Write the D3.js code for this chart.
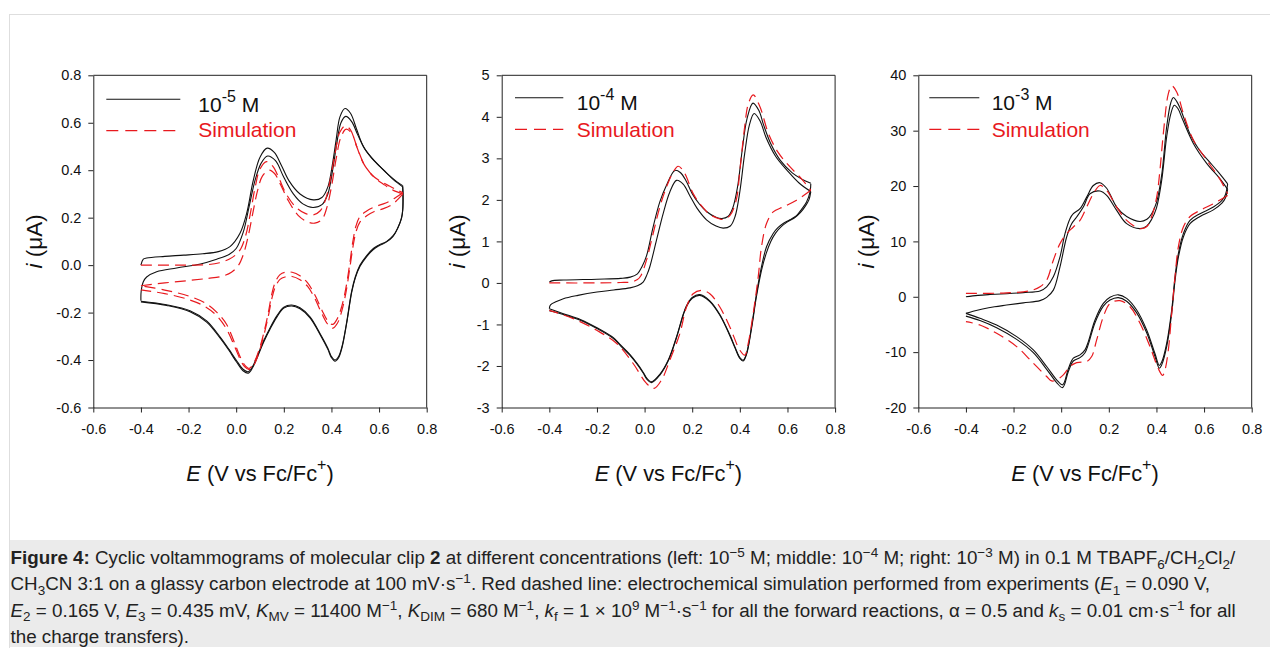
<!DOCTYPE html>
<html>
<head>
<meta charset="utf-8">
<script src="https://cdn.jsdelivr.net/npm/d3@7"></script>
<style>
  body { margin: 0; background: #fff; }
  svg { display: block; font-family: Arial, "Liberation Sans", sans-serif; }
</style>
</head>
<body>
<svg id="fig" width="1270" height="648"></svg>
<script>
// potential axis, shared by the three panels (V vs Fc/Fc+)
const xTicks = [-0.6, -0.4, -0.2, 0.0, 0.2, 0.4, 0.6, 0.8];

// ---- left panel, 1e-5 M (current in uA) ----
const p1YTicks = [-0.6, -0.4, -0.2, 0.0, 0.2, 0.4, 0.6, 0.8];
const p1ExpFwd1 = [[-0.4,0.0],[-0.39,0.025],[-0.376,0.03],[-0.3,0.037],[-0.22,0.042],[-0.14,0.048],[-0.075,0.057],[-0.026,0.078],[0.016,0.134],[0.044,0.218],[0.072,0.358],[0.1,0.455],[0.13,0.493],[0.16,0.475],[0.19,0.42],[0.222,0.355],[0.268,0.3],[0.324,0.275],[0.36,0.285],[0.385,0.33],[0.405,0.43],[0.42,0.53],[0.436,0.626],[0.457,0.66],[0.48,0.64],[0.505,0.575],[0.534,0.5],[0.57,0.45],[0.604,0.415],[0.64,0.38],[0.674,0.352],[0.699,0.335]];
const p1ExpFwd2 = [[-0.4,-0.15],[-0.399,-0.11],[-0.39,-0.07],[-0.376,-0.05],[-0.334,-0.028],[-0.25,-0.012],[-0.15,0.005],[-0.082,0.025],[-0.03,0.045],[0.0,0.07],[0.03,0.14],[0.055,0.25],[0.08,0.36],[0.105,0.43],[0.132,0.46],[0.165,0.44],[0.2,0.37],[0.24,0.3],[0.28,0.258],[0.322,0.243],[0.36,0.255],[0.385,0.3],[0.405,0.4],[0.422,0.51],[0.44,0.6],[0.46,0.627],[0.485,0.605],[0.51,0.55],[0.54,0.49],[0.58,0.44],[0.62,0.4],[0.66,0.36],[0.699,0.33]];
const p1ExpRev1 = [[0.699,0.335],[0.701,0.3],[0.7,0.24],[0.695,0.2],[0.68,0.16],[0.66,0.125],[0.632,0.1],[0.6,0.085],[0.576,0.07],[0.548,0.04],[0.52,0.0],[0.5,-0.05],[0.485,-0.11],[0.464,-0.24],[0.445,-0.34],[0.43,-0.385],[0.415,-0.4],[0.4,-0.385],[0.385,-0.35],[0.352,-0.288],[0.31,-0.218],[0.268,-0.18],[0.233,-0.168],[0.2,-0.177],[0.17,-0.215],[0.142,-0.265],[0.115,-0.32],[0.09,-0.38],[0.07,-0.425],[0.051,-0.449],[0.03,-0.44],[0.0,-0.4],[-0.03,-0.355],[-0.068,-0.302],[-0.124,-0.235],[-0.194,-0.192],[-0.292,-0.167],[-0.4,-0.152]];
const p1ExpRev2 = [[0.699,0.33],[0.7,0.29],[0.699,0.23],[0.693,0.195],[0.678,0.155],[0.658,0.12],[0.63,0.097],[0.6,0.082],[0.576,0.066],[0.548,0.036],[0.52,-0.005],[0.5,-0.055],[0.485,-0.115],[0.464,-0.245],[0.445,-0.345],[0.43,-0.39],[0.415,-0.405],[0.4,-0.39],[0.385,-0.355],[0.352,-0.292],[0.31,-0.222],[0.268,-0.184],[0.233,-0.172],[0.2,-0.181],[0.17,-0.22],[0.142,-0.27],[0.115,-0.325],[0.09,-0.386],[0.07,-0.43],[0.051,-0.455],[0.03,-0.446],[0.0,-0.406],[-0.03,-0.36],[-0.068,-0.307],[-0.124,-0.24],[-0.194,-0.196],[-0.292,-0.17],[-0.4,-0.155]];
const p1SimFwd1 = [[-0.4,0.0],[-0.3,0.0],[-0.2,0.0],[-0.12,0.002],[-0.07,0.01],[-0.03,0.025],[0.0,0.045],[0.02,0.07],[0.04,0.125],[0.06,0.22],[0.08,0.33],[0.1,0.405],[0.128,0.436],[0.155,0.415],[0.18,0.365],[0.21,0.3],[0.25,0.245],[0.29,0.218],[0.324,0.212],[0.352,0.228],[0.375,0.275],[0.395,0.36],[0.415,0.47],[0.435,0.56],[0.458,0.587],[0.48,0.57],[0.506,0.5],[0.534,0.43],[0.57,0.38],[0.604,0.355],[0.64,0.335],[0.674,0.317],[0.7,0.305]];
const p1SimFwd2 = [[-0.4,-0.087],[-0.3,-0.075],[-0.2,-0.065],[-0.12,-0.056],[-0.06,-0.047],[-0.02,-0.03],[0.01,0.0],[0.03,0.045],[0.05,0.12],[0.07,0.22],[0.09,0.315],[0.11,0.375],[0.138,0.4],[0.162,0.385],[0.186,0.34],[0.22,0.27],[0.26,0.21],[0.3,0.182],[0.33,0.177],[0.36,0.192],[0.38,0.24],[0.4,0.33],[0.42,0.45],[0.44,0.54],[0.462,0.573],[0.485,0.555],[0.51,0.49],[0.54,0.42],[0.58,0.37],[0.62,0.34],[0.66,0.315],[0.7,0.3]];
const p1SimRev1 = [[0.7,0.305],[0.67,0.285],[0.646,0.27],[0.618,0.258],[0.58,0.245],[0.548,0.228],[0.52,0.205],[0.503,0.165],[0.49,0.1],[0.476,0.0],[0.46,-0.1],[0.443,-0.175],[0.425,-0.225],[0.405,-0.25],[0.385,-0.235],[0.36,-0.19],[0.33,-0.125],[0.3,-0.075],[0.268,-0.045],[0.235,-0.03],[0.205,-0.03],[0.184,-0.04],[0.165,-0.07],[0.15,-0.12],[0.135,-0.2],[0.115,-0.29],[0.095,-0.36],[0.075,-0.41],[0.055,-0.435],[0.035,-0.42],[0.016,-0.385],[-0.01,-0.32],[-0.04,-0.25],[-0.08,-0.2],[-0.13,-0.16],[-0.2,-0.13],[-0.3,-0.105],[-0.4,-0.087]];
const p1SimRev2 = [[0.7,0.3],[0.67,0.268],[0.646,0.25],[0.618,0.238],[0.58,0.226],[0.548,0.208],[0.52,0.182],[0.503,0.14],[0.49,0.075],[0.476,-0.02],[0.46,-0.12],[0.443,-0.195],[0.425,-0.245],[0.405,-0.266],[0.385,-0.25],[0.36,-0.205],[0.33,-0.14],[0.3,-0.09],[0.268,-0.062],[0.235,-0.048],[0.205,-0.05],[0.184,-0.06],[0.165,-0.09],[0.15,-0.14],[0.135,-0.215],[0.115,-0.3],[0.095,-0.37],[0.075,-0.42],[0.055,-0.44],[0.035,-0.428],[0.016,-0.395],[-0.01,-0.335],[-0.04,-0.27],[-0.08,-0.215],[-0.13,-0.175],[-0.2,-0.145],[-0.3,-0.12],[-0.4,-0.104]];

// ---- middle panel, 1e-4 M ----
const p2YTicks = [-3, -2, -1, 0, 1, 2, 3, 4, 5];
const p2ExpFwd1 = [[-0.4,0.02],[-0.39,0.05],[-0.34,0.07],[-0.2,0.09],[-0.1,0.11],[-0.06,0.14],[-0.03,0.22],[-0.01,0.4],[0.008,0.65],[0.036,1.35],[0.064,1.95],[0.092,2.35],[0.127,2.71],[0.15,2.66],[0.175,2.45],[0.2,2.15],[0.23,1.9],[0.26,1.72],[0.3,1.58],[0.325,1.55],[0.35,1.6],[0.37,1.8],[0.39,2.3],[0.41,3.2],[0.43,3.95],[0.455,4.33],[0.48,4.15],[0.5,3.8],[0.53,3.35],[0.57,2.95],[0.62,2.65],[0.66,2.5],[0.698,2.4]];
const p2ExpFwd2 = [[-0.4,-0.62],[-0.395,-0.53],[-0.37,-0.45],[-0.341,-0.38],[-0.28,-0.3],[-0.2,-0.22],[-0.13,-0.17],[-0.062,-0.12],[-0.03,-0.07],[-0.006,0.02],[0.01,0.2],[0.022,0.39],[0.05,1.03],[0.078,1.67],[0.106,2.19],[0.134,2.47],[0.162,2.38],[0.19,2.1],[0.22,1.8],[0.26,1.52],[0.3,1.37],[0.33,1.32],[0.36,1.37],[0.38,1.6],[0.4,2.2],[0.42,3.1],[0.44,3.8],[0.46,4.08],[0.485,3.9],[0.51,3.5],[0.55,3.05],[0.6,2.7],[0.65,2.4],[0.698,2.2]];
const p2ExpRev1 = [[0.698,2.39],[0.695,2.2],[0.68,1.95],[0.66,1.78],[0.638,1.62],[0.61,1.52],[0.582,1.43],[0.56,1.33],[0.54,1.19],[0.512,0.87],[0.491,0.39],[0.47,-0.26],[0.449,-1.06],[0.428,-1.7],[0.414,-1.86],[0.4,-1.8],[0.38,-1.55],[0.358,-1.25],[0.316,-0.76],[0.274,-0.43],[0.232,-0.28],[0.2,-0.35],[0.176,-0.55],[0.162,-0.76],[0.134,-1.3],[0.1,-1.85],[0.064,-2.2],[0.029,-2.38],[0.01,-2.3],[-0.006,-2.15],[-0.03,-1.95],[-0.062,-1.72],[-0.1,-1.5],[-0.131,-1.32],[-0.2,-1.08],[-0.27,-0.88],[-0.341,-0.74],[-0.4,-0.62]];
const p2ExpRev2 = [[0.698,2.2],[0.69,2.0],[0.675,1.85],[0.655,1.7],[0.63,1.57],[0.6,1.47],[0.575,1.36],[0.55,1.2],[0.53,1.0],[0.51,0.7],[0.491,0.3],[0.47,-0.32],[0.449,-1.1],[0.428,-1.72],[0.414,-1.88],[0.4,-1.82],[0.38,-1.57],[0.358,-1.27],[0.316,-0.78],[0.274,-0.45],[0.232,-0.3],[0.2,-0.37],[0.176,-0.57],[0.162,-0.78],[0.134,-1.32],[0.1,-1.87],[0.064,-2.22],[0.029,-2.4],[0.01,-2.32],[-0.006,-2.17],[-0.03,-1.97],[-0.062,-1.74],[-0.1,-1.52],[-0.131,-1.34],[-0.2,-1.1],[-0.27,-0.9],[-0.341,-0.76],[-0.4,-0.67]];
const p2SimFwd = [[-0.4,0.0],[-0.2,0.0],[-0.1,0.01],[-0.062,0.02],[-0.03,0.08],[-0.015,0.18],[0.008,0.55],[0.036,1.19],[0.064,1.83],[0.092,2.31],[0.12,2.67],[0.141,2.81],[0.16,2.72],[0.176,2.55],[0.204,2.15],[0.24,1.85],[0.274,1.65],[0.316,1.54],[0.33,1.53],[0.358,1.62],[0.385,2.0],[0.4,2.7],[0.42,3.75],[0.435,4.3],[0.456,4.53],[0.484,4.25],[0.52,3.6],[0.56,3.15],[0.61,2.8],[0.66,2.5],[0.698,2.23]];
const p2SimRev = [[0.698,2.23],[0.638,1.99],[0.582,1.83],[0.54,1.71],[0.512,1.43],[0.491,0.87],[0.477,0.14],[0.456,-0.74],[0.435,-1.46],[0.421,-1.74],[0.4,-1.62],[0.358,-1.06],[0.316,-0.58],[0.274,-0.26],[0.239,-0.18],[0.204,-0.26],[0.176,-0.58],[0.148,-1.22],[0.106,-1.86],[0.071,-2.34],[0.04,-2.54],[0.008,-2.42],[-0.048,-1.94],[-0.117,-1.46],[-0.201,-1.14],[-0.299,-0.86],[-0.4,-0.66]];

// ---- right panel, 1e-3 M ----
const p3YTicks = [-20, -10, 0, 10, 20, 30, 40];
const p3ExpFwd1 = [[-0.4,0.0],[-0.35,0.25],[-0.299,0.4],[-0.229,0.55],[-0.159,0.75],[-0.089,1.05],[-0.061,1.8],[-0.033,3.6],[-0.005,7.2],[0.016,11.4],[0.037,14.1],[0.051,15.0],[0.079,15.9],[0.107,18.0],[0.135,20.1],[0.163,20.6],[0.191,19.6],[0.233,16.2],[0.275,14.5],[0.331,13.6],[0.36,14.0],[0.38,15.0],[0.4,17.0],[0.422,22.0],[0.443,30.7],[0.46,35.0],[0.471,36.0],[0.485,35.3],[0.5,34.0],[0.54,29.5],[0.58,26.5],[0.62,24.5],[0.66,22.5],[0.699,20.4]];
const p3ExpFwd2 = [[-0.4,-3.0],[-0.37,-2.6],[-0.33,-2.2],[-0.28,-1.8],[-0.229,-1.5],[-0.159,-1.1],[-0.089,-0.7],[-0.061,-0.1],[-0.033,1.2],[-0.005,5.4],[0.023,10.8],[0.044,13.2],[0.065,14.4],[0.093,16.2],[0.121,18.6],[0.163,19.1],[0.191,18.3],[0.233,15.6],[0.275,13.2],[0.331,12.3],[0.36,12.8],[0.38,14.0],[0.4,16.0],[0.422,21.0],[0.443,28.9],[0.46,33.0],[0.475,34.6],[0.49,34.0],[0.51,32.0],[0.555,27.7],[0.611,24.1],[0.667,21.3],[0.699,19.4]];
const p3ExpRev1 = [[0.699,20.4],[0.69,18.5],[0.675,17.4],[0.639,16.2],[0.583,15.0],[0.541,13.8],[0.513,11.4],[0.492,7.8],[0.478,3.6],[0.464,-2.4],[0.443,-8.4],[0.422,-11.8],[0.412,-12.4],[0.394,-10.3],[0.359,-6.0],[0.317,-2.4],[0.275,-0.3],[0.24,0.35],[0.205,-0.1],[0.177,-1.2],[0.142,-4.2],[0.114,-8.1],[0.1,-9.6],[0.079,-10.5],[0.051,-11.1],[0.03,-13.0],[0.006,-15.9],[-0.019,-15.0],[-0.061,-12.6],[-0.117,-9.6],[-0.187,-7.2],[-0.271,-5.1],[-0.341,-3.9],[-0.4,-3.0]];
const p3ExpRev2 = [[0.699,19.4],[0.69,17.9],[0.675,16.9],[0.639,15.7],[0.583,14.5],[0.541,13.2],[0.513,10.8],[0.492,7.1],[0.478,2.9],[0.464,-3.0],[0.443,-9.0],[0.422,-12.3],[0.412,-12.9],[0.394,-10.8],[0.359,-6.5],[0.317,-2.9],[0.275,-0.8],[0.24,-0.15],[0.205,-0.6],[0.177,-1.7],[0.142,-4.7],[0.114,-8.6],[0.1,-10.1],[0.079,-11.0],[0.051,-11.6],[0.03,-13.5],[0.006,-16.4],[-0.019,-15.5],[-0.061,-13.1],[-0.117,-10.1],[-0.187,-7.7],[-0.271,-5.6],[-0.341,-4.3],[-0.4,-3.5]];
const p3SimFwd = [[-0.4,0.6],[-0.3,0.62],[-0.229,0.7],[-0.159,0.9],[-0.12,1.2],[-0.089,1.8],[-0.061,3.0],[-0.033,6.6],[-0.005,9.6],[0.023,11.4],[0.051,12.6],[0.079,13.8],[0.107,16.2],[0.135,18.6],[0.163,20.1],[0.191,19.2],[0.233,16.2],[0.275,13.8],[0.331,12.3],[0.36,12.7],[0.38,14.5],[0.401,18.0],[0.415,23.0],[0.429,29.5],[0.45,36.7],[0.464,38.1],[0.485,37.0],[0.513,33.1],[0.555,28.3],[0.611,24.7],[0.667,21.2],[0.699,18.6]];
const p3SimRev = [[0.699,18.3],[0.639,16.8],[0.583,15.6],[0.541,14.5],[0.513,12.6],[0.492,9.0],[0.478,3.6],[0.464,-3.0],[0.45,-9.6],[0.436,-13.2],[0.426,-14.2],[0.408,-13.0],[0.373,-9.0],[0.331,-4.8],[0.289,-1.8],[0.247,-0.7],[0.205,-1.2],[0.177,-3.6],[0.149,-7.8],[0.128,-10.8],[0.107,-11.7],[0.065,-11.9],[0.037,-12.6],[0.009,-14.1],[-0.019,-15.0],[-0.04,-15.2],[-0.061,-14.4],[-0.117,-12.0],[-0.187,-9.0],[-0.271,-6.6],[-0.341,-5.1],[-0.4,-4.5]];

const concentrations = ['-5', '-4', '-3'];

const TOP = 75.3, W = 333.4, H = 332.2;
const RED = '#e8191e';

const panels = [
  { left: 93.3, yDomain: [-0.6, 0.8], yTicks: p1YTicks, fmt: d => d.toFixed(1),
    exp: [p1ExpFwd1, p1ExpRev1, p1ExpFwd2, p1ExpRev2], sim: [p1SimFwd1, p1SimRev1, p1SimFwd2, p1SimRev2],
    conc: concentrations[0], ylabX: -59, leg: { x0: 13, x1: 87, tx: 105, ly: 24, ty: 36.4, ry: 55.4, sy: 62.2 } },
  { left: 501.7, yDomain: [-3, 5], yTicks: p2YTicks, fmt: d => String(d),
    exp: [p2ExpFwd1, p2ExpRev1, p2ExpFwd2, p2ExpRev2], sim: [p2SimFwd, p2SimRev],
    conc: concentrations[1], ylabX: -45, leg: { x0: 13.3, x1: 61.6, tx: 75, ly: 22.4, ty: 34.7, ry: 54, sy: 61.4 } },
  { left: 918.3, yDomain: [-20, 40], yTicks: p3YTicks, fmt: d => String(d),
    exp: [p3ExpFwd1, p3ExpRev1, p3ExpFwd2, p3ExpRev2], sim: [p3SimFwd, p3SimRev],
    conc: concentrations[2], ylabX: -52, leg: { x0: 11, x1: 61, tx: 73.4, ly: 22.4, ty: 34.7, ry: 54, sy: 61.4 } }
];

const svg = d3.select('#fig');

// page frame + caption box
svg.append('rect').attr('x', 9.5).attr('y', 14.5).attr('width', 1290).attr('height', 660)
  .attr('fill', '#fff').attr('stroke', '#dedede');
svg.append('rect').attr('x', 10).attr('y', 540).attr('width', 1260).attr('height', 107).attr('fill', '#ebebeb');

panels.forEach(p => {
  const g = svg.append('g').attr('transform', `translate(${p.left},${TOP})`);
  const x = d3.scaleLinear().domain([-0.6, 0.8]).range([0, W]);
  const y = d3.scaleLinear().domain(p.yDomain).range([H, 0]);

  const xAxis = g.append('g').attr('transform', `translate(0,${H})`)
    .call(d3.axisBottom(x).tickValues(xTicks).tickFormat(d => d.toFixed(1))
      .tickSize(5).tickSizeOuter(0).tickPadding(11));
  const yAxis = g.append('g')
    .call(d3.axisLeft(y).tickValues(p.yTicks).tickFormat(p.fmt)
      .tickSize(5).tickSizeOuter(0).tickPadding(7));
  [xAxis, yAxis].forEach(a => {
    a.attr('font-family', null).attr('font-size', null);
    a.selectAll('text').attr('font-size', 14.5).attr('fill', '#111');
    a.selectAll('line,path').attr('stroke', '#222');
  });

  // box on top and right
  g.append('path').attr('d', `M0,0H${W}V${H}`).attr('fill', 'none').attr('stroke', '#222');

  const line = d3.line().x(d => x(d[0])).y(d => y(d[1])).curve(d3.curveCatmullRom.alpha(0.5));

  g.selectAll('.exp').data(p.exp).join('path').attr('class', 'exp')
    .attr('d', line).attr('fill', 'none').attr('stroke', '#111').attr('stroke-width', 1.1);
  g.selectAll('.sim').data(p.sim).join('path').attr('class', 'sim')
    .attr('d', line).attr('fill', 'none').attr('stroke', RED).attr('stroke-width', 1.2)
    .attr('stroke-dasharray', '11,6');

  // legend
  const L = p.leg;
  g.append('line').attr('x1', L.x0).attr('x2', L.x1).attr('y1', L.ly).attr('y2', L.ly)
    .attr('stroke', '#111').attr('stroke-width', 1.1);
  g.append('line').attr('x1', L.x0).attr('x2', L.x1).attr('y1', L.ry).attr('y2', L.ry)
    .attr('stroke', RED).attr('stroke-width', 1.2).attr('stroke-dasharray', '12,7');
  const t = g.append('text').attr('x', L.tx).attr('y', L.ty).attr('font-size', 21).attr('fill', '#111');
  t.append('tspan').text('10');
  t.append('tspan').attr('dy', -10).attr('font-size', 16).text(p.conc);
  t.append('tspan').attr('dy', 10).text(' M');
  g.append('text').attr('x', L.tx).attr('y', L.sy).attr('font-size', 21).attr('fill', RED).text('Simulation');

  // axis titles
  const yl = g.append('text').attr('transform', `translate(${p.ylabX},${H / 2}) rotate(-90)`)
    .attr('text-anchor', 'middle').attr('dy', '0.35em').attr('font-size', 22.5).attr('fill', '#111');
  yl.append('tspan').attr('font-style', 'italic').text('i');
  yl.append('tspan').text(' (μA)');

  const xl = g.append('text').attr('x', W / 2).attr('y', 405.5)
    .attr('text-anchor', 'middle').attr('font-size', 21.8).attr('fill', '#111');
  xl.append('tspan').attr('font-style', 'italic').text('E');
  xl.append('tspan').text(' (V vs Fc/Fc');
  xl.append('tspan').attr('dy', -11).attr('font-size', 16).text('+');
  xl.append('tspan').attr('dy', 11).text(')');
});

// caption
const caption = [
  [['Figure 4:', 'b'], [' Cyclic voltammograms of molecular clip '], ['2', 'b'], [' at different concentrations (left: 10'], ['−5', 'sup'], [' M; middle: 10'], ['−4', 'sup'], [' M; right: 10'], ['−3', 'sup'], [' M) in 0.1 M TBAPF'], ['6', 'sub'], ['/CH'], ['2', 'sub'], ['Cl'], ['2', 'sub'], ['/']],
  [['CH'], ['3', 'sub'], ['CN 3:1 on a glassy carbon electrode at 100 mV·s'], ['−1', 'sup'], ['. Red dashed line: electrochemical simulation performed from experiments ('], ['E', 'i'], ['1', 'sub'], [' = 0.090 V,']],
  [['E', 'i'], ['2', 'sub'], [' = 0.165 V, '], ['E', 'i'], ['3', 'sub'], [' = 0.435 mV, '], ['K', 'i'], ['MV', 'sub'], [' = 11400 M'], ['−1', 'sup'], [', '], ['K', 'i'], ['DIM', 'sub'], [' = 680 M'], ['−1', 'sup'], [', '], ['k', 'i'], ['f', 'sub'], [' = 1 × 10'], ['9', 'sup'], [' M'], ['−1', 'sup'], ['·s'], ['−1', 'sup'], [' for all the forward reactions, α = 0.5 and '], ['k', 'i'], ['s', 'sub'], [' = 0.01 cm·s'], ['−1', 'sup'], [' for all']],
  [['the charge transfers).']]
];
const capFs = 18.8;
caption.forEach((segs, li) => {
  const tx = svg.append('text').attr('x', 10.5).attr('y', 564 + li * 26.3)
    .attr('font-size', capFs).attr('fill', '#222');
  let shift = 0;
  segs.forEach(([s, k]) => {
    const want = k === 'sup' ? -7 : k === 'sub' ? 4.5 : 0;
    const ts = tx.append('tspan').text(s).attr('dy', want - shift);
    shift = want;
    if (k === 'b') ts.attr('font-weight', 'bold');
    if (k === 'i') ts.attr('font-style', 'italic');
    if (k === 'sup' || k === 'sub') ts.attr('font-size', capFs * 0.72);
  });
});
</script>
</body>
</html>
